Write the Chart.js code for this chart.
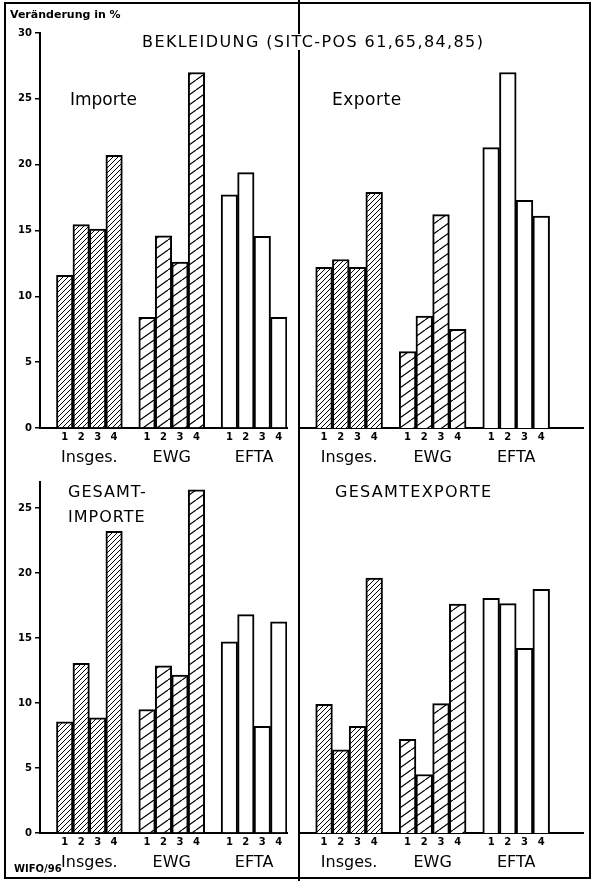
<!DOCTYPE html>
<html>
<head>
<meta charset="utf-8">
<script src="https://cdn.jsdelivr.net/npm/chart.js@4.4.1/dist/chart.umd.min.js"></script>
<style>
  html, body { margin: 0; padding: 0; background: #fff; }
  body { width: 593px; height: 881px; position: relative; overflow: hidden; font-family: 'DejaVu Sans', sans-serif; color: #000; }
  canvas { position: absolute; }
  .frame { position: absolute; left: 4px; top: 2px; width: 587px; height: 877px; border: 2px solid #000; box-sizing: border-box; }
  .divider { position: absolute; left: 298px; top: 0; width: 2px; height: 881px; background: #000; }
  .txt { position: absolute; white-space: nowrap; z-index: 5; line-height: 1; }
</style>
</head>
<body>
<div class="frame"></div>
<div class="divider"></div>
<canvas id="c1" width="300" height="475" style="left:0;top:0"></canvas>
<canvas id="c2" width="294" height="475" style="left:299px;top:0"></canvas>
<canvas id="c3" width="300" height="431" style="left:0;top:450px"></canvas>
<canvas id="c4" width="294" height="431" style="left:299px;top:450px"></canvas>

<div class="txt" style="left:10px;top:9px;font-size:11px;font-weight:bold;">Veränderung in %</div>
<div class="txt" style="left:138px;top:34px;font-size:16px;letter-spacing:1.4px;background:#fff;padding:0 4px;">BEKLEIDUNG (SITC-POS 61,65,84,85)</div>
<div class="txt" style="left:70px;top:91px;font-size:17px;">Importe</div>
<div class="txt" style="left:332px;top:91px;font-size:17px;letter-spacing:0.5px;">Exporte</div>
<div class="txt" style="left:68px;top:484px;font-size:16px;letter-spacing:1px;">GESAMT-</div>
<div class="txt" style="left:68px;top:509px;font-size:16px;letter-spacing:1px;">IMPORTE</div>
<div class="txt" style="left:335px;top:484px;font-size:16px;letter-spacing:1.3px;">GESAMTEXPORTE</div>
<div class="txt" style="left:14px;top:864px;font-size:10px;font-weight:bold;">WIFO/96</div>

<script>
// ---- data ----
const categories = ['Insges.', 'EWG', 'EFTA'];
const periods = ['1', '2', '3', '4'];
const yTicksTop = [0, 5, 10, 15, 20, 25, 30];
const yTicksBottom = [0, 5, 10, 15, 20, 25];
// values per group: Insges. 1-4, EWG 1-4, EFTA 1-4
const bekleidungImporte = [11.6, 15.45, 15.1, 20.7, 8.4, 14.6, 12.6, 27.0, 17.7, 19.4, 14.55, 8.4];
const bekleidungExporte = [12.2, 12.8, 12.2, 17.9, 5.8, 8.5, 16.2, 7.5, 21.3, 27.0, 17.3, 16.1];
const gesamtImporte = [8.55, 13.05, 8.85, 23.2, 9.5, 12.85, 12.15, 26.4, 14.7, 16.8, 8.2, 16.25];
const gesamtExporte = [9.9, 6.4, 8.2, 19.6, 7.2, 4.5, 9.95, 17.6, 18.05, 17.65, 14.2, 18.75];

// ---- hatch patterns ----
function hatch(w, h, lw) {
  const c = document.createElement('canvas');
  c.width = w; c.height = h;
  const g = c.getContext('2d');
  g.fillStyle = '#fff'; g.fillRect(0, 0, w, h);
  g.strokeStyle = '#000'; g.lineWidth = lw;
  for (let k = -1; k <= 1; k++) {
    g.beginPath(); g.moveTo(k * w, h); g.lineTo((k + 1) * w, 0); g.stroke();
  }
  return g.createPattern(c, 'repeat');
}
const groupFills = [hatch(5, 5, 1), hatch(14, 10, 1.2), '#ffffff'];

function makeChart(id, values, opts) {
  const labels = [], groupLabels = [], data = [], fills = [];
  const spacer = () => { labels.push(''); groupLabels.push(''); data.push(null); fills.push('#fff'); };
  for (let i = 0; i < opts.lead; i++) spacer();
  categories.forEach((cat, gi) => {
    if (gi > 0) spacer();
    periods.forEach((p, pi) => {
      labels.push(p);
      groupLabels.push(pi === 1 ? cat : '');
      data.push(values[gi * 4 + pi]);
      fills.push(groupFills[gi]);
    });
  });
  for (let i = 0; i < opts.trail; i++) spacer();
  const n = labels.length;
  const canvas = document.getElementById(id);
  const yW = opts.showY ? 40 : 0;
  const areaW = canvas.width - opts.padding.left - opts.padding.right - yW;
  const halfCat = areaW / n / 2;

  return new Chart(canvas, {
    type: 'bar',
    data: {
      labels,
      datasets: [{
        data, xAxisID: 'x', yAxisID: 'y',
        backgroundColor: fills, borderColor: '#000', borderWidth: 2, borderSkipped: 'start',
        categoryPercentage: 1, barPercentage: 1
      }]
    },
    options: {
      responsive: false, animation: false, events: [],
      layout: { padding: opts.padding },
      plugins: { legend: { display: false }, tooltip: { enabled: false }, title: { display: false } },
      scales: {
        x: {
          type: 'category', position: 'bottom', weight: 0, offset: true,
          grid: { display: false, drawTicks: false },
          border: { display: true, color: '#000', width: 2 },
          ticks: { color: '#000', font: { family: 'DejaVu Sans', size: 10, weight: 'bold' }, padding: 3, autoSkip: false, maxRotation: 0 },
          afterFit: a => { a.height = 20; }
        },
        xg: {
          type: 'category', labels: groupLabels, position: 'bottom', weight: 1, offset: true,
          grid: { display: false, drawTicks: false },
          border: { display: false },
          ticks: { color: '#000', font: { family: 'DejaVu Sans', size: 16 }, padding: 0, autoSkip: false, maxRotation: 0,
                   labelOffset: halfCat },
          afterFit: a => { a.height = 22; }
        },
        y: {
          display: opts.showY, min: 0, max: opts.yMax,
          afterBuildTicks: a => { a.ticks = opts.yTicks.map(v => ({ value: v })); },
          grid: { display: true, drawOnChartArea: false, drawTicks: true, tickLength: 5, color: '#000', lineWidth: 1.5 },
          border: { display: true, color: '#000', width: 2 },
          ticks: { color: '#000', font: { family: 'DejaVu Sans', size: 10, weight: 'bold' }, padding: 3 },
          afterFit: a => { a.width = yW; }
        }
      }
    }
  });
}

makeChart('c1', bekleidungImporte, { lead: 1, trail: 0, showY: true, yMax: 30, yTicks: yTicksTop,
  padding: { top: 33, left: 0, right: 13, bottom: 5 } });
makeChart('c2', bekleidungExporte, { lead: 1, trail: 2, showY: false, yMax: 30, yTicks: yTicksTop,
  padding: { top: 33, left: 0, right: 10, bottom: 5 } });
makeChart('c3', gesamtImporte, { lead: 1, trail: 0, showY: true, yMax: 27, yTicks: yTicksBottom,
  padding: { top: 32, left: 0, right: 13, bottom: 6 } });
makeChart('c4', gesamtExporte, { lead: 1, trail: 2, showY: false, yMax: 27, yTicks: yTicksBottom,
  padding: { top: 32, left: 0, right: 10, bottom: 6 } });
</script>
</body>
</html>
